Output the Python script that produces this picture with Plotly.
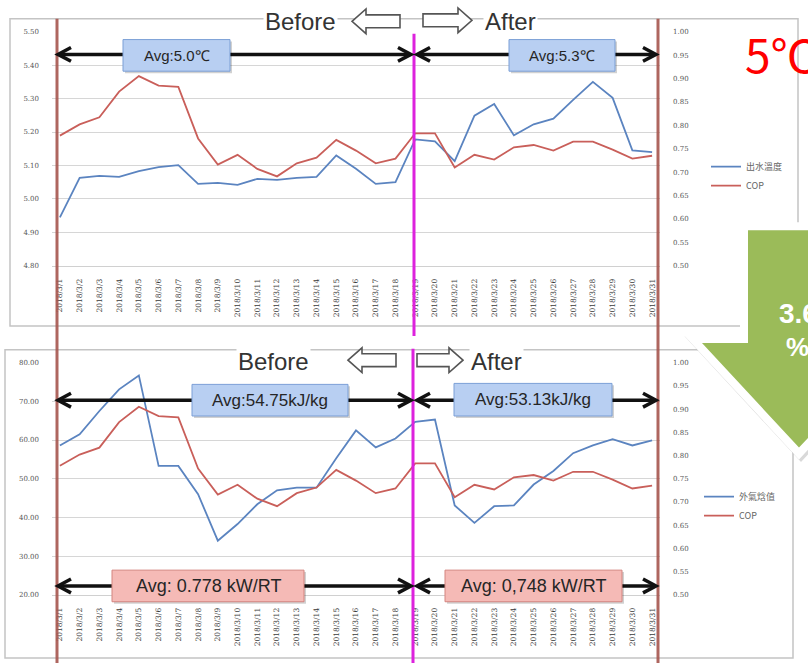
import plotly.graph_objects as go

# ---- data -----------------------------------------------------------------
dates = [
    "2018/3/1", "2018/3/2", "2018/3/3", "2018/3/4", "2018/3/5", "2018/3/6",
    "2018/3/7", "2018/3/8", "2018/3/9", "2018/3/10", "2018/3/11", "2018/3/12",
    "2018/3/13", "2018/3/14", "2018/3/15", "2018/3/16", "2018/3/17", "2018/3/18",
    "2018/3/19", "2018/3/20", "2018/3/21", "2018/3/22", "2018/3/23", "2018/3/24",
    "2018/3/25", "2018/3/26", "2018/3/27", "2018/3/28", "2018/3/29", "2018/3/30",
    "2018/3/31",
]

# outlet chilled-water temperature (left axis, upper chart)
outlet_temp = [4.945, 5.063, 5.069, 5.066, 5.083, 5.095, 5.101, 5.045, 5.048, 5.042,
               5.060, 5.057, 5.063, 5.066, 5.130, 5.090, 5.045, 5.050, 5.178, 5.172,
               5.113, 5.249, 5.284, 5.190, 5.223, 5.240, 5.296, 5.350, 5.302, 5.145,
               5.140]

# outdoor air enthalpy kJ/kg (left axis, lower chart)
enthalpy = [58.6, 61.5, 67.5, 73.1, 76.7, 53.3, 53.3, 46.0, 34.0, 38.3,
            43.4, 47.0, 47.7, 47.7, 55.3, 62.5, 58.1, 60.4, 64.7, 65.3,
            43.1, 38.6, 42.9, 43.1, 48.5, 52.0, 56.6, 58.6, 60.2, 58.6,
            59.9]

# chiller COP in kW/RT (right axis, both charts)
cop = [0.778, 0.802, 0.817, 0.872, 0.905, 0.885, 0.882, 0.772, 0.716, 0.737,
       0.707, 0.691, 0.719, 0.731, 0.769, 0.746, 0.719, 0.729, 0.783, 0.783,
       0.710, 0.737, 0.727, 0.753, 0.758, 0.746, 0.765, 0.765, 0.748, 0.729,
       0.735]

avg_labels_top = ["Avg:5.0℃", "Avg:5.3℃"]
avg_labels_mid = ["Avg:54.75kJ/kg", "Avg:53.13kJ/kg"]
avg_labels_low = ["Avg: 0.778 kW/RT", "Avg: 0,748 kW/RT"]

W, H = 808, 667
BLUE = "#5b84c0"
RED = "#c95f5a"
TICK_FONT = dict(family="DejaVu Serif", size=7, color="#555555")


def px(x):
    return x / W


def py(y):
    return 1 - y / H


def path(points, close=True):
    s = "M " + " L ".join(f"{px(x):.5f},{py(y):.5f}" for x, y in points)
    return s + (" Z" if close else "")


idx = list(range(len(dates)))

fig = go.Figure()
fig.add_trace(go.Scatter(x=idx, y=outlet_temp, name="出水溫度", mode="lines",
                         line=dict(color=BLUE, width=1.8), xaxis="x", yaxis="y",
                         legend="legend"))
fig.add_trace(go.Scatter(x=idx, y=cop, name="COP", mode="lines",
                         line=dict(color=RED, width=1.8), xaxis="x", yaxis="y2",
                         legend="legend"))
fig.add_trace(go.Scatter(x=idx, y=enthalpy, name="外氣焓值", mode="lines",
                         line=dict(color=BLUE, width=1.8), xaxis="x2", yaxis="y3",
                         legend="legend2"))
fig.add_trace(go.Scatter(x=idx, y=cop, name="COP", mode="lines",
                         line=dict(color=RED, width=1.8), xaxis="x2", yaxis="y4",
                         legend="legend2"))

xdom = [px(52), px(660)]
xcommon = dict(domain=xdom, range=[-0.4, 30.4], tickmode="array", tickvals=idx,
               ticktext=dates, tickangle=-90,
               tickfont=dict(family="DejaVu Serif", size=7.5, color="#3a3a3a"),
               showgrid=False, zeroline=False, showline=True, linecolor="#d0d0d0",
               ticks="", ticklabelstandoff=9, fixedrange=True)
ycommon = dict(gridcolor="#d6d6d6", gridwidth=1, zeroline=False, showline=False,
               tickfont=TICK_FONT, tickformat=".2f", ticks="", ticklabelstandoff=12)
rcommon = dict(showgrid=False, zeroline=False, showline=False, side="right",
               tickfont=TICK_FONT, tickformat=".2f", ticks="", ticklabelstandoff=12,
               range=[0.5, 1.0], dtick=0.05, tick0=0.5)

fig.update_layout(
    xaxis=dict(anchor="y", **xcommon),
    xaxis2=dict(anchor="y3", **xcommon),
    yaxis=dict(domain=[py(265), py(28)], range=[4.8, 5.5], dtick=0.1, tick0=4.8, **ycommon),
    yaxis2=dict(overlaying="y", anchor="x", **rcommon),
    yaxis3=dict(domain=[py(598), py(363)], range=[20, 80], dtick=10, tick0=20, **ycommon),
    yaxis4=dict(overlaying="y3", anchor="x2", **rcommon),
    legend=dict(x=px(706), y=py(150), xanchor="left", yanchor="top",
                font=dict(family="Noto Sans CJK TC", size=9, color="#666666"),
                bgcolor="rgba(0,0,0,0)", itemwidth=30, tracegroupgap=0),
    legend2=dict(x=px(699), y=py(484), xanchor="left", yanchor="top",
                 font=dict(family="Noto Sans CJK TC", size=9, color="#666666"),
                 bgcolor="rgba(0,0,0,0)", itemwidth=30, tracegroupgap=0),
    width=W, height=H, autosize=False,
    margin=dict(l=0, r=0, t=0, b=0),
    paper_bgcolor="white", plot_bgcolor="white",
    showlegend=True,
)

shapes = []
# chart frames
shapes.append(dict(type="rect", xref="paper", yref="paper", x0=px(10), x1=px(798),
                   y0=py(326), y1=py(15), line=dict(color="#c4c4c4", width=1.5), layer="below"))
shapes.append(dict(type="rect", xref="paper", yref="paper", x0=px(5), x1=px(793),
                   y0=py(662), y1=py(350), line=dict(color="#c4c4c4", width=1.5), layer="below"))

# period boundaries
for x in (57, 658):
    shapes.append(dict(type="line", xref="paper", yref="paper", x0=px(x), x1=px(x),
                       y0=py(667), y1=py(15), line=dict(color="rgba(165,85,78,0.9)", width=3),
                       layer="above"))
shapes.append(dict(type="line", xref="paper", yref="paper", x0=px(414), x1=px(414),
                   y0=py(336), y1=py(30), line=dict(color="#dd22dd", width=3), layer="above"))
shapes.append(dict(type="line", xref="paper", yref="paper", x0=px(413), x1=px(413),
                   y0=py(667), y1=py(349), line=dict(color="#dd22dd", width=3), layer="above"))


def double_arrow(x0, x1, y):
    shapes.append(dict(type="line", xref="paper", yref="paper", x0=px(x0 + 2), x1=px(x1 - 2),
                       y0=py(y), y1=py(y), line=dict(color="#111111", width=3.5), layer="above"))
    shapes.append(dict(type="path", xref="paper", yref="paper",
                       path=path([(x0 + 14, y - 7), (x0 + 1, y), (x0 + 14, y + 7)], close=False),
                       line=dict(color="#111111", width=3.5), layer="above"))
    shapes.append(dict(type="path", xref="paper", yref="paper",
                       path=path([(x1 - 14, y - 7), (x1 - 1, y), (x1 - 14, y + 7)], close=False),
                       line=dict(color="#111111", width=3.5), layer="above"))


double_arrow(57, 412, 51)
double_arrow(416, 657, 51)
double_arrow(57, 412, 401)
double_arrow(416, 657, 401)
double_arrow(57, 412, 589)
double_arrow(416, 657, 589)


def label_box(x0, y0, x1, y1, fill, border, text, size):
    shapes.append(dict(type="rect", xref="paper", yref="paper", x0=px(x0 + 2), x1=px(x1 + 2),
                       y0=py(y1 + 2), y1=py(y0 + 2), line=dict(width=0),
                       fillcolor="rgba(0,0,0,0.18)", layer="above"))
    shapes.append(dict(type="rect", xref="paper", yref="paper", x0=px(x0), x1=px(x1),
                       y0=py(y1), y1=py(y0), line=dict(color=border, width=1),
                       fillcolor=fill, layer="above"))
    annotations.append(dict(xref="paper", yref="paper", x=px((x0 + x1) / 2), y=py((y0 + y1) / 2),
                            text=text, showarrow=False, xanchor="center", yanchor="middle",
                            font=dict(family="Liberation Sans", size=size, color="#262626")))


annotations = []
LB_FILL, LB_LINE = "#b8cff2", "#7b9fd6"
PK_FILL, PK_LINE = "#f5bab6", "#d4847f"
label_box(123, 36, 230, 68, LB_FILL, LB_LINE, avg_labels_top[0], 15)
label_box(509, 36, 615, 68, LB_FILL, LB_LINE, avg_labels_top[1], 15)
label_box(192, 385, 348, 417, LB_FILL, LB_LINE, avg_labels_mid[0], 17)
label_box(454, 384, 612, 417, LB_FILL, LB_LINE, avg_labels_mid[1], 17)
label_box(112, 573, 304, 605, PK_FILL, PK_LINE, avg_labels_low[0], 18)
label_box(445, 573, 622, 605, PK_FILL, PK_LINE, avg_labels_low[1], 18)

# hollow direction arrows beside Before / After
hollow = [
    [(352, 17.5), (366, 5), (366, 11), (400, 11), (400, 24), (366, 24), (366, 30)],
    [(472, 16.5), (458, 4), (458, 10), (423, 10), (423, 23), (458, 23), (458, 29)],
    [(348, 360.5), (362, 348), (362, 354), (396, 354), (396, 367), (362, 367), (362, 373)],
    [(463, 360.5), (449, 348), (449, 354), (417, 354), (417, 367), (449, 367), (449, 373)],
]
for pts in hollow:
    shapes.append(dict(type="path", xref="paper", yref="paper", path=path(pts),
                       fillcolor="white", line=dict(color="#555555", width=1.6), layer="above"))

for text, x, y in [("Before", 300, 18), ("After", 510, 18), ("Before", 273, 362), ("After", 496, 362)]:
    annotations.append(dict(xref="paper", yref="paper", x=px(x), y=py(y), text=text,
                            showarrow=False, xanchor="center", yanchor="middle",
                            bgcolor="white",
                            font=dict(family="Liberation Sans", size=24, color="#333333")))

# big green "down" arrow
cx = 799
arrow_pts = [(cx - 51, 229), (cx + 51, 229), (cx + 51, 343), (cx + 97, 343), (cx, 449),
             (cx - 97, 343), (cx - 51, 343)]
shapes.append(dict(type="path", xref="paper", yref="paper", path=path([(x + 2, y + 2) for x, y in arrow_pts]),
                   fillcolor="rgba(0,0,0,0.15)", line=dict(color="rgba(0,0,0,0.15)", width=17),
                   layer="above"))
shapes.append(dict(type="path", xref="paper", yref="paper", path=path(arrow_pts),
                   fillcolor="white", line=dict(color="white", width=16), layer="above"))
shapes.append(dict(type="path", xref="paper", yref="paper", path=path(arrow_pts),
                   fillcolor="#9bbb59", line=dict(width=0), layer="above"))

annotations.append(dict(xref="paper", yref="paper", x=px(777), y=py(313), text="<b>3.6</b>",
                        showarrow=False, xanchor="left", yanchor="middle",
                        font=dict(family="Liberation Sans", size=28, color="white")))
annotations.append(dict(xref="paper", yref="paper", x=px(784), y=py(347), text="<b>%</b>",
                        showarrow=False, xanchor="left", yanchor="middle",
                        font=dict(family="Liberation Sans", size=26, color="white")))

annotations.append(dict(xref="paper", yref="paper", x=px(743), y=py(50), text="5℃",
                        showarrow=False, xanchor="left", yanchor="middle",
                        font=dict(family="Noto Sans CJK JP", size=46, color="#ff0000")))

fig.update_layout(shapes=shapes, annotations=annotations)
fig.write_html("out.html")
